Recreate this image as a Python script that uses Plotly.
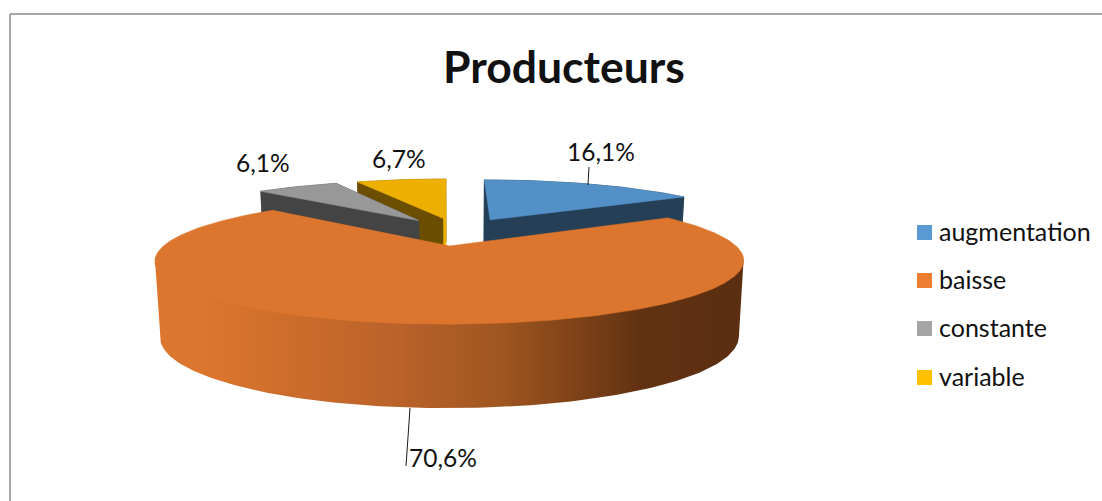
import numpy as np
import plotly.graph_objects as go

# Survey shares per answer
categories = ["augmentation", "baisse", "constante", "variable"]
values = [16.1, 70.6, 6.1, 6.7]

legend_colors = ["#5B9BD5", "#ED7D31", "#A5A5A5", "#FFC000"]
top_colors = ["#5490C8", "#DC752D", "#989898", "#EEB000"]
wall_colors = ["#243F56", "#6B3A14", "#444444", "#6B4E00"]
# The closing cut face catches the light on the last slice only
closing_face_colors = ["#243F56", "#6B3A14", "#444444", "#EEB000"]
label_pos = [(601, 151), (443, 457), (263, 162), (399, 158.5)]
legend_rows = [232.5, 280.5, 328.5, 377.5]
draw_order = [0, 3, 2, 1]

# Projection of the tilted disc onto the page, in page pixels
CX, CY, A, B, K = 457.5, 231.4, 270.0, 53.3, 0.22
EXPLODE = 0.26
DEPTH, DEPTH_K, BASE_SCALE = 71.8, 0.115, 0.983
RIM_OVERLAP = 3.0

# Rim shading, left to right across the long slice
RIM_X0, RIM_X1 = 155.0, 745.0
rim_stops = [(155, "#DC752D"), (205, "#DC752D"), (400, "#B9622A"),
             (500, "#A0561F"), (640, "#623212"), (745, "#5A2E10")]


def top_point(u, v):
    den = 1 + K * v
    return CX + A * u / den, CY - B * v / den


def base_point(u, v):
    x, y = top_point(u, v)
    return CX + (x - CX) * BASE_SCALE, y + DEPTH / (1 + DEPTH_K * v)


def polygon(points, color):
    xs = [p[0] for p in points] + [points[0][0]]
    ys = [p[1] for p in points] + [points[0][1]]
    return go.Scatter(
        x=xs, y=ys, mode="lines", fill="toself", fillcolor=color,
        line=dict(color=color, width=0.6), hoverinfo="skip", showlegend=False,
    )


def front_arc(points):
    # Part of a rim running from its rightmost point round the front to its leftmost
    xs = [p[0] for p in points]
    return points[int(np.argmax(xs)):int(np.argmin(xs)) + 1]


def shaded_band(points):
    xs = [p[0] for p in points] + [points[0][0]]
    ys = [p[1] for p in points] + [points[0][1]]
    scale = [[(x - RIM_X0) / (RIM_X1 - RIM_X0), c] for x, c in rim_stops]
    return go.Scatter(
        x=xs, y=ys, mode="lines", fill="toself",
        fillgradient=dict(type="horizontal", colorscale=scale, start=RIM_X0, stop=RIM_X1),
        line=dict(color="rgba(0,0,0,0)", width=0), hoverinfo="skip", showlegend=False,
    )


total = sum(values)
edges = np.concatenate([[0], np.cumsum(values)]) / total * 2 * np.pi

fig = go.Figure()

for i in draw_order:
    t0, t1 = edges[i], edges[i + 1]
    mid = (t0 + t1) / 2
    ou, ov = EXPLODE * np.sin(mid), EXPLODE * np.cos(mid)
    ts = np.linspace(t0, t1, max(16, int((t1 - t0) * 60)))
    rim = [(ou + np.sin(t), ov + np.cos(t)) for t in ts]
    apex = (ou, ov)

    if i == 1:
        # The band tucks under the top face so no seam shows along their shared edge
        upper = [(x, y - RIM_OVERLAP) for x, y in front_arc([top_point(*p) for p in rim])]
        lower = front_arc([base_point(*p) for p in rim])
        fig.add_trace(shaded_band(upper + lower[::-1]))
    else:
        outline = [top_point(*p) for p in rim] + [base_point(*p) for p in rim[::-1]]
        fig.add_trace(polygon(outline, wall_colors[i]))
        face = [top_point(*apex), top_point(*rim[0]), base_point(*rim[0]), base_point(*apex)]
        fig.add_trace(polygon(face, wall_colors[i]))
        face = [top_point(*apex), top_point(*rim[-1]), base_point(*rim[-1]), base_point(*apex)]
        fig.add_trace(polygon(face, closing_face_colors[i]))

    fig.add_trace(polygon([top_point(*apex)] + [top_point(*p) for p in rim], top_colors[i]))

# Leader lines from the rim to two of the labels
for (x_pair, y_pair) in [((589, 588), (167, 185)), ((410, 406), (408, 466))]:
    fig.add_trace(go.Scatter(
        x=list(x_pair), y=list(y_pair), mode="lines",
        line=dict(color="#1A1A1A", width=1), hoverinfo="skip", showlegend=False,
    ))

# Key on the right: one swatch and one caption per category
fig.add_trace(go.Scatter(
    x=[924.5] * len(categories), y=legend_rows, mode="markers",
    marker=dict(symbol="square", size=15, color=legend_colors, line=dict(width=0)),
    hovertext=categories, hoverinfo="text", showlegend=False,
))
for name, row in zip(categories, legend_rows):
    fig.add_annotation(
        x=936.5, y=row - 1.5, text=name, showarrow=False, xanchor="left",
        font=dict(family="Lato", size=25, color="#111111"),
    )

for value, (x, y) in zip(values, label_pos):
    fig.add_annotation(
        x=x, y=y, text=f"{value:.1f}".replace(".", ",") + "%", showarrow=False,
        font=dict(family="Lato", size=24.5, color="#111111"),
    )

fig.add_annotation(
    x=563.5, y=65, text="<b>Producteurs</b>", showarrow=False,
    font=dict(family="Lato", size=44.5, color="#111111"),
)

# Chart frame: only the top and left edges are drawn
frame = dict(color="#A6A6A6", width=2)
fig.add_shape(type="line", x0=10, x1=10, y0=14, y1=501, line=frame)
fig.add_shape(type="line", x0=10, x1=1102, y0=14, y1=14, line=frame)

fig.update_layout(
    width=1102, height=501, margin=dict(l=0, r=0, t=0, b=0),
    paper_bgcolor="white", plot_bgcolor="white", showlegend=False,
    xaxis=dict(range=[0, 1102], visible=False, fixedrange=True),
    yaxis=dict(range=[501, 0], visible=False, fixedrange=True),
)

fig.write_html("out.html")
